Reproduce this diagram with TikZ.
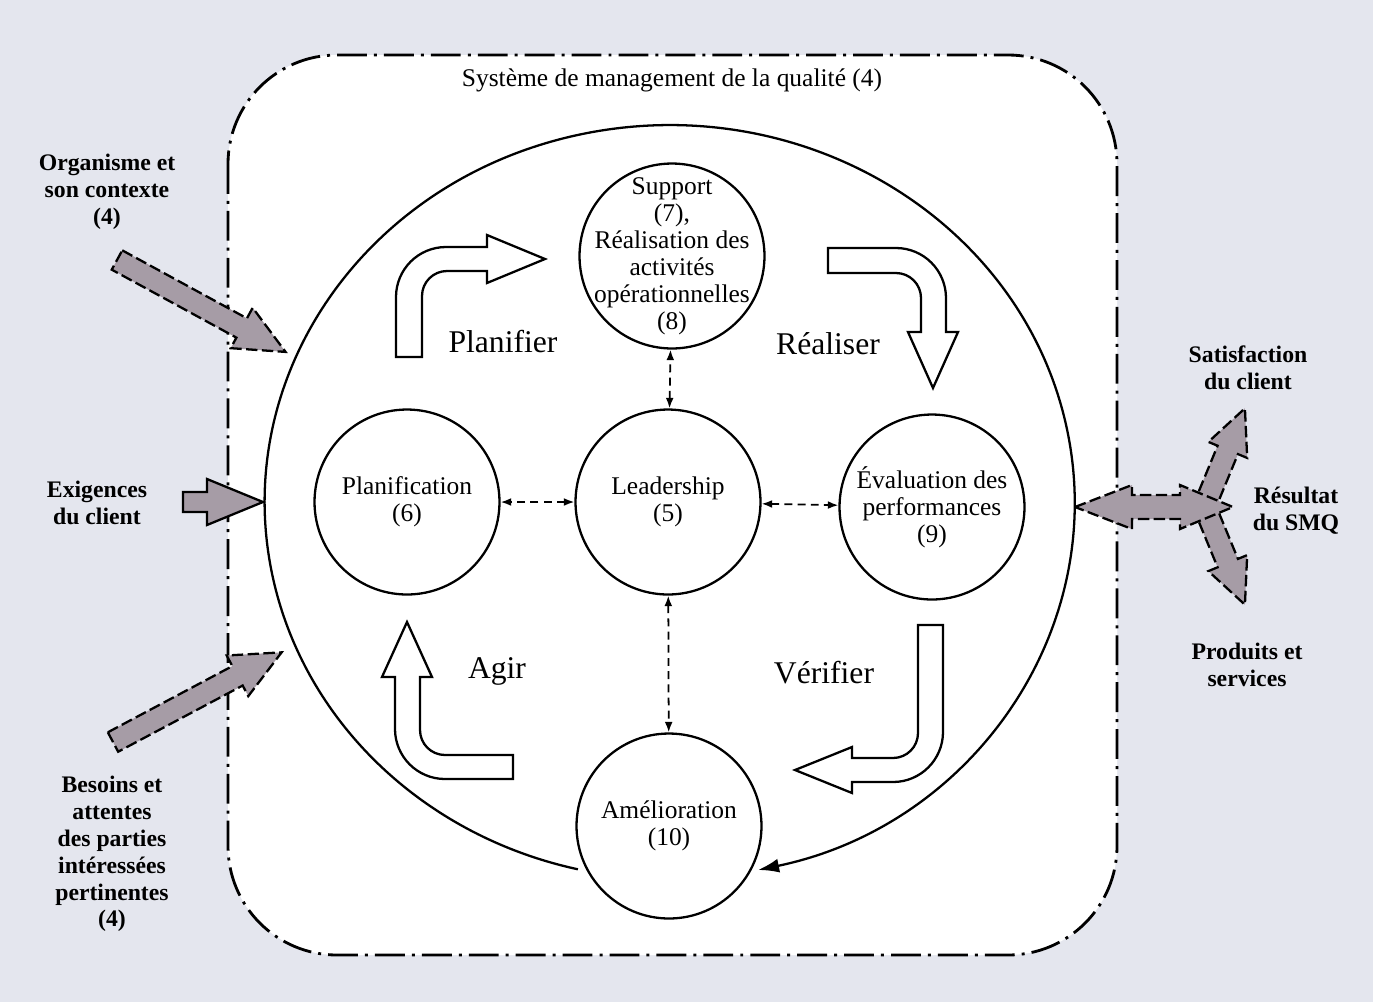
\documentclass[tikz,border=0pt]{standalone}
\usepackage{fontspec}
\setmainfont{Liberation Serif}
\usetikzlibrary{arrows.meta}

\definecolor{paper}{RGB}{228,230,238}
\definecolor{mauve}{RGB}{166,156,166}

\tikzset{
  stage/.style={draw, circle, line width=1.3pt, fill=white, minimum size=3.7cm, inner sep=0pt},
  stagetext/.style={align=center, font=\fontsize{14.5}{15.4}\selectfont},
  link/.style={{Latex[length=6pt,width=4.5pt]}-{Latex[length=6pt,width=4.5pt]}, dash pattern=on 4.5pt off 3pt, line width=1pt},
  flowarrow/.style={draw, line width=1.3pt, fill=white, line join=miter},
  inarrow/.style={draw, fill=mauve, line width=1.3pt, dash pattern=on 6.5pt off 2.5pt},
  side/.style={align=center, font=\bfseries\fontsize{13.5}{15.3}\selectfont},
  phase/.style={font=\fontsize{18}{20}\selectfont},
}

\begin{document}
\begin{tikzpicture}[x=0.02cm, y=-0.02cm]
  % fond et cadre du SMQ
  \fill[paper] (0,0) rectangle (1373,1002);
  \useasboundingbox (0,0) rectangle (1373,1002);
  \draw[line width=1.6pt, fill=white, rounded corners=62pt,
    dash pattern=on 17pt off 4pt on 1.7pt off 4pt] (228,55) rectangle (1117,955);
  \node[stagetext] (smq) at (672,80) {Système de management de la qualité (4)};

  % grand cycle
  \draw[line width=1.3pt, {Latex[length=12pt,width=8pt]}-]
    (758,870) arc[start angle=77.4, end angle=-256.9, x radius=405, y radius=377];

  % etapes
  \node[stage] (sup) at (672,256) {};
  \node[stagetext] at (sup) {Support\\(7),\\Réalisation des\\activités\\opérationnelles\\(8)};
  \node[stage] (lead) at (668,502) {};
  \node[stagetext] at (lead) {Leadership\\(5)};
  \node[stage] (plan) at (407,502) {};
  \node[stagetext] at (plan) {Planification\\(6)};
  \node[stage] (eval) at (932,507) {};
  \node[stagetext] at (eval) {Évaluation des\\performances\\(9)};
  \node[stage] (amel) at (669,826) {};
  \node[stagetext] at (amel) {Amélioration\\(10)};

  \draw[link] (lead) -- (sup);
  \draw[link] (lead) -- (plan);
  \draw[link] (lead) -- (eval);
  \draw[link] (lead) -- (amel);

  % fleches du PDCA
  \draw[flowarrow] (396,357) -- (396,297) arc[start angle=180, end angle=270, radius=50]
    -- (487,247) -- (487,235) -- (545,259) -- (487,283) -- (487,271) -- (447,271)
    arc[start angle=270, end angle=180, radius=25] -- (422,357) -- cycle;
  \draw[flowarrow] (828,248) -- (896,248) arc[start angle=270, end angle=360, radius=50]
    -- (946,332) -- (958,332) -- (933,388) -- (908,332) -- (921,332) -- (921,298)
    arc[start angle=0, end angle=-90, radius=25] -- (828,273) -- cycle;
  \draw[flowarrow] (918,625) -- (943,625) -- (943,732) arc[start angle=0, end angle=90, radius=50]
    -- (852,782) -- (852,793) -- (795,770) -- (852,747) -- (852,758) -- (893,758)
    arc[start angle=90, end angle=0, radius=25] -- cycle;
  \draw[flowarrow] (513,779) -- (445,779) arc[start angle=90, end angle=180, radius=50]
    -- (395,677) -- (382,677) -- (407,622) -- (432,677) -- (420,677) -- (420,730)
    arc[start angle=180, end angle=90, radius=25] -- (513,755) -- cycle;

  \node[phase] (pl) at (503,342) {Planifier};
  \node[phase] (re) at (828,344) {Réaliser};
  \node[phase] (ag) at (497,671) {Agir};
  \node[phase] (ve) at (824,673) {Vérifier};

  % entrees
  \begin{scope}[shift={(117,260)}, rotate=-28.6]
    \draw[inarrow] (0,-11) -- (142,-11) -- (142,-23) -- (192,0) -- (142,23) -- (142,11) -- (0,11) -- cycle;
  \end{scope}
  \begin{scope}[shift={(183,502)}]
    \draw[inarrow, solid] (0,-10) -- (24,-10) -- (24,-23) -- (80,0) -- (24,23) -- (24,10) -- (0,10) -- cycle;
  \end{scope}
  \begin{scope}[shift={(113,742)}, rotate=28]
    \draw[inarrow] (0,-11) -- (141,-11) -- (141,-23) -- (191,0) -- (141,23) -- (141,11) -- (0,11) -- cycle;
  \end{scope}

  \node[side] (org) at (107,192) {Organisme et\\son contexte\\(4)};
  \node[side] (exi) at (97,503) {Exigences\\du client};
  \node[side] (bes) at (112,854) {Besoins et\\attentes\\des parties\\intéressées\\pertinentes\\(4)};

  % sorties
  \begin{scope}[shift={(1203,510)}, rotate=67.6]
    \draw[inarrow] (0,-11) -- (65,-11) -- (65,-21) -- (110,0) -- (65,21) -- (65,11) -- (0,11) -- cycle;
  \end{scope}
  \begin{scope}[shift={(1203,503)}, rotate=-67.6]
    \draw[inarrow] (0,-11) -- (65,-11) -- (65,-21) -- (110,0) -- (65,21) -- (65,11) -- (0,11) -- cycle;
  \end{scope}
  \draw[inarrow] (1075,507) -- (1132,485) -- (1132,495) -- (1180,495) -- (1180,485) -- (1233,507)
    -- (1180,529) -- (1180,519) -- (1132,519) -- (1132,529) -- cycle;

  \node[side] (sat) at (1248,368) {Satisfaction\\du client};
  \node[side] (res) at (1296,511) {Résultat\\du SMQ};
  \node[side] (pro) at (1247,665) {Produits et\\services};
\end{tikzpicture}
\end{document}
